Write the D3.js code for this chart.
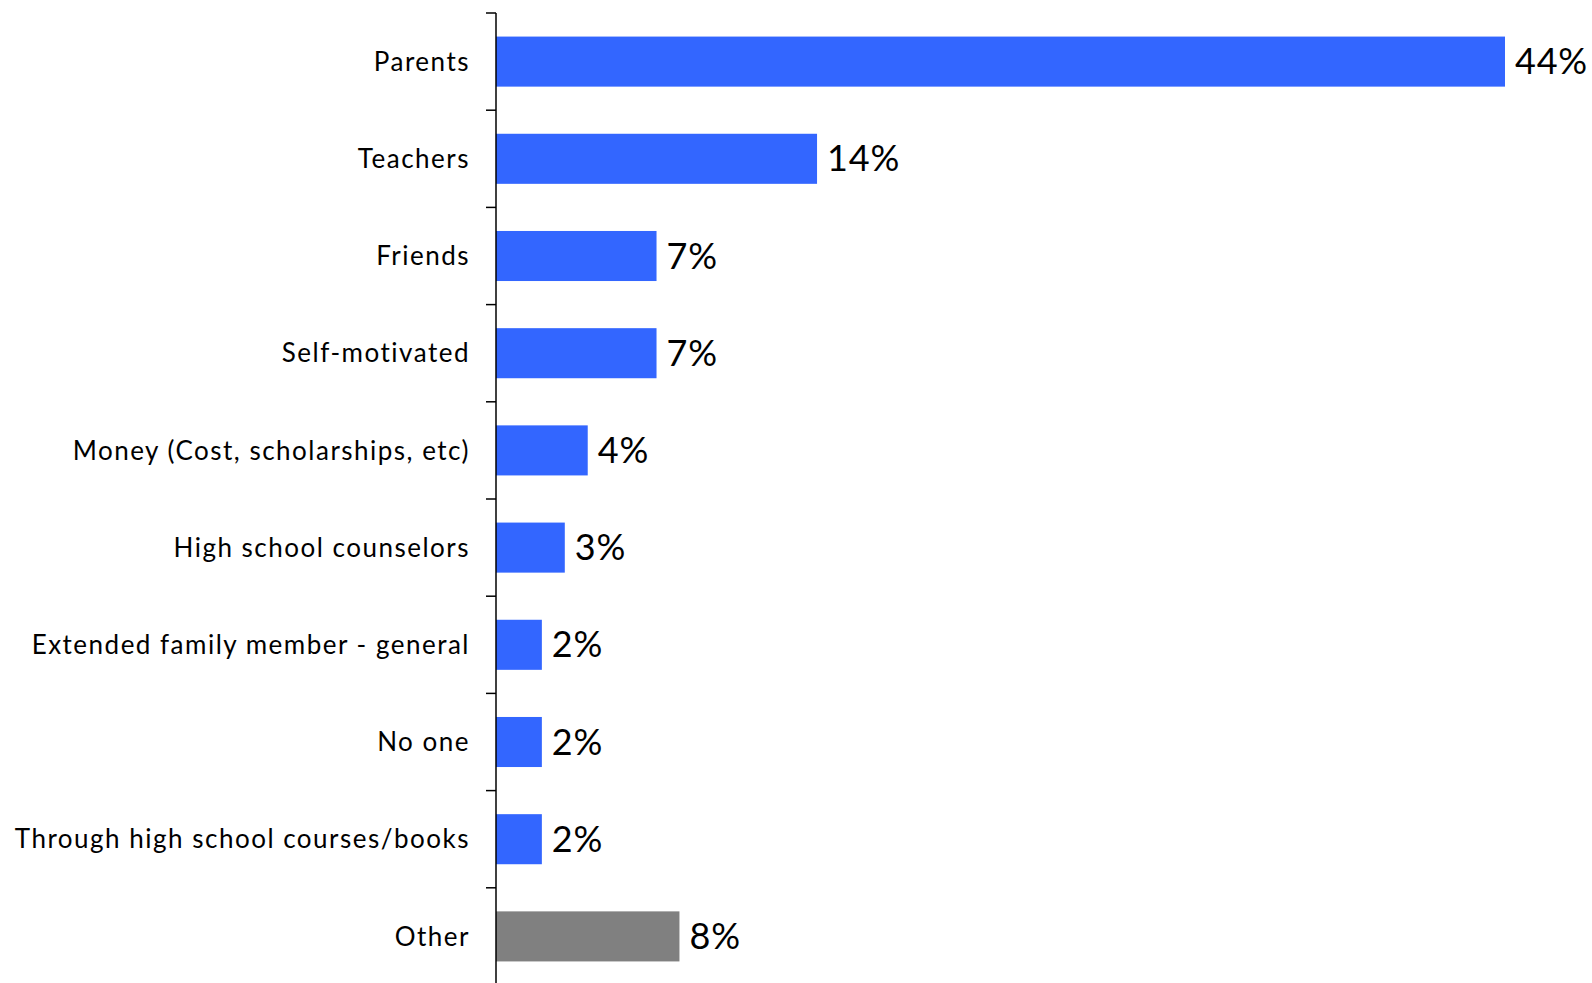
<!DOCTYPE html>
<html>
<head>
<meta charset="utf-8">
<script src="https://cdn.jsdelivr.net/npm/d3@7"></script>
<style>
  html, body { margin: 0; padding: 0; background: #fff; }
  svg { display: block; }
  text { font-family: Lato, "Open Sans", sans-serif; fill: #000; }
</style>
</head>
<body>
<svg id="chart" width="1592" height="983"></svg>
<script>
// Sources of encouragement to attend college (% of respondents)
const categories = [
  "Parents",
  "Teachers",
  "Friends",
  "Self-motivated",
  "Money (Cost, scholarships, etc)",
  "High school counselors",
  "Extended family member - general",
  "No one",
  "Through high school courses/books",
  "Other"
];
const values = [44, 14, 7, 7, 4, 3, 2, 2, 2, 8];
const barColors = ["#3366ff", "#3366ff", "#3366ff", "#3366ff", "#3366ff",
                   "#3366ff", "#3366ff", "#3366ff", "#3366ff", "#808080"];

const svg = d3.select("#chart");
const axisX = 496;

const y = d3.scaleBand()
  .domain(categories)
  .range([13, 985])
  .paddingInner(0.485)
  .paddingOuter(0.2425);

const x = d3.scaleLinear()
  .domain([0, 44])
  .range([axisX, 1505]);

const rows = categories.map((c, i) => ({ cat: c, val: values[i], color: barColors[i] }));

// bars
svg.append("g")
  .selectAll("rect")
  .data(rows)
  .join("rect")
  .attr("x", x(0))
  .attr("y", d => y(d.cat))
  .attr("width", d => x(d.val) - x(0))
  .attr("height", y.bandwidth())
  .attr("fill", d => d.color);

// value labels
svg.append("g")
  .selectAll("text")
  .data(rows)
  .join("text")
  .attr("x", d => x(d.val) + 10)
  .attr("y", d => y(d.cat) + y.bandwidth() / 2)
  .attr("dy", "0.35em")
  .style("font-size", "36px")
  .style("letter-spacing", "0.8px")
  .text(d => d.val + "%");

// category axis with ticks between bands
const step = y.step();
const axisTop = 13, axisBottom = 983;
const axisG = svg.append("g");
axisG.append("line")
  .attr("x1", axisX).attr("x2", axisX)
  .attr("y1", axisTop).attr("y2", axisBottom)
  .attr("stroke", "#000").attr("stroke-width", 1.5);
const tickYs = d3.range(categories.length).map(i => axisTop + i * step);
axisG.selectAll("line.tick")
  .data(tickYs)
  .join("line")
  .attr("class", "tick")
  .attr("x1", axisX - 10).attr("x2", axisX)
  .attr("y1", d => d).attr("y2", d => d)
  .attr("stroke", "#000").attr("stroke-width", 1.5);

// category labels
axisG.selectAll("text")
  .data(categories)
  .join("text")
  .attr("x", 470)
  .attr("y", d => y(d) + y.bandwidth() / 2)
  .attr("dy", "0.35em")
  .attr("text-anchor", "end")
  .style("font-size", "26px")
  .style("letter-spacing", "1.5px")
  .text(d => d);
</script>
</body>
</html>
